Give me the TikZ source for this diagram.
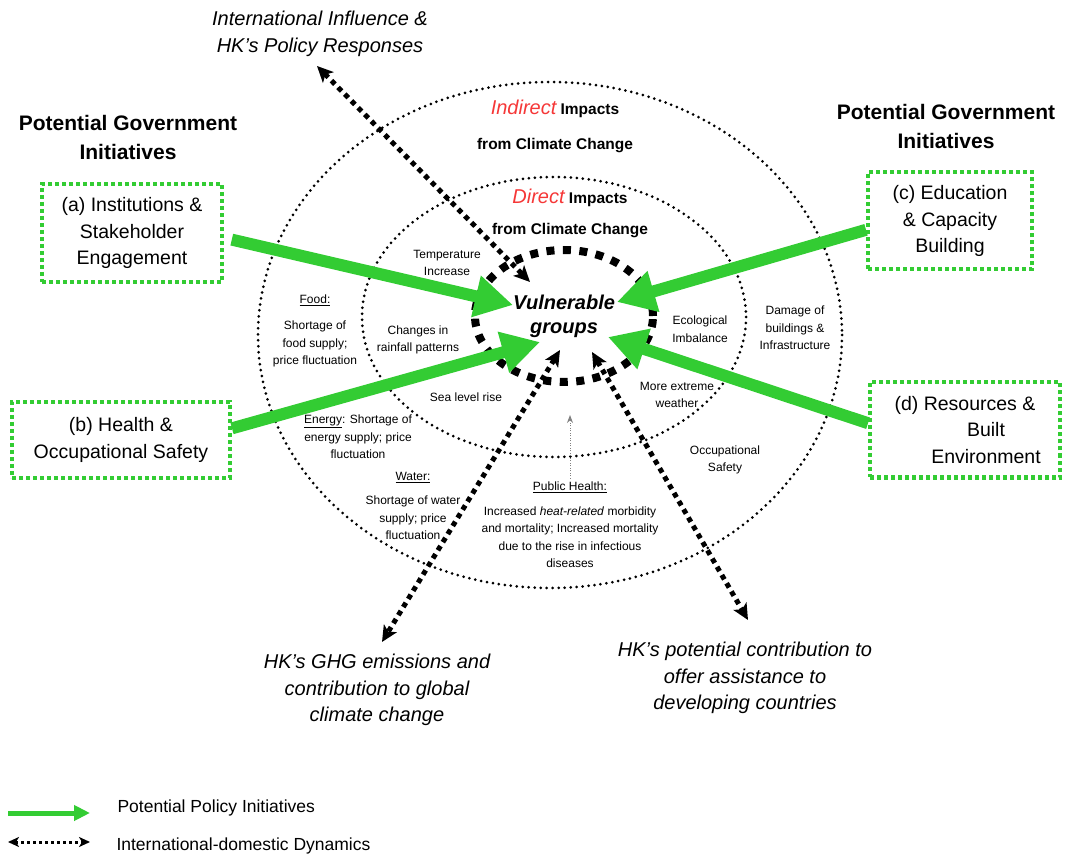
\documentclass[tikz,border=0pt]{standalone}
\usepackage{fontspec}
\setmainfont{Liberation Sans}
\usetikzlibrary{arrows.meta, shapes.geometric}

\definecolor{initgreen}{RGB}{51,204,51}
\definecolor{impactred}{RGB}{245,55,55}

\begin{document}
\begin{tikzpicture}[x=1pt, y=-1pt,
    ring/.style={line width=3pt, line cap=round, dash pattern=on 0pt off 6pt},
    initbox/.style={draw=initgreen, line width=4pt, dash pattern=on 4pt off 3pt,
      align=center, inner sep=0pt, font=\fontsize{19.5}{26.5}\selectfont},
    policy/.style={initgreen, line width=12pt, -{Triangle[length=38pt,width=40pt]}},
    dyn/.style={line width=5pt, dash pattern=on 5pt off 4.5pt,
      {Stealth[length=16pt,width=15pt,inset=4pt]}-{Stealth[length=16pt,width=15pt,inset=4pt]}},
    impact/.style={align=center, font=\fontsize{12}{17.5}\selectfont},
    outlook/.style={align=center, font=\itshape\fontsize{20}{26.5}\selectfont},
    heading/.style={align=center, font=\bfseries\fontsize{21}{29}\selectfont},
    legendtxt/.style={anchor=west, font=\fontsize{17.5}{20}\selectfont}]
  \useasboundingbox (0,0) rectangle (1066,858);

  % impact rings
  \draw[ring] (550,335) ellipse [x radius=292, y radius=253];
  \draw[ring] (554,317) ellipse [x radius=192, y radius=140];

  \node[heading] (headL) at (128,137) {Potential Government\\Initiatives};
  \node[heading] (headR) at (946,126) {Potential Government\\Initiatives};

  \node[align=center, font=\bfseries\fontsize{15.5}{35}\selectfont] (indirect) at (555,126)
    {{\color{impactred}\mdseries\itshape\fontsize{20}{35}\selectfont Indirect} Impacts\\from Climate Change};
  \node[align=center, font=\bfseries\fontsize{15.5}{31}\selectfont] (direct) at (570,213)
    {{\color{impactred}\mdseries\itshape\fontsize{20}{31}\selectfont Direct} Impacts\\from Climate Change};

  % direct impacts
  \node[impact] (temp) at (447,263) {Temperature\\Increase};
  \node[impact] (rain) at (418,340) {Changes in\\rainfall patterns};
  \node[impact] (sea) at (466,397) {Sea level rise};
  \node[impact] (eco) at (700,329) {Ecological\\Imbalance};
  \node[impact] (extreme) at (677,395) {More extreme\\weather};
  % indirect impacts
  \node[impact] (food) at (315,331) {\underline{Food:}\\[9pt]Shortage of\\food supply;\\price fluctuation};
  \node[impact] (energy) at (358,437) {\underline{Energy}: Shortage of\\energy supply; price\\fluctuation};
  \node[impact] (water) at (413,506) {\underline{Water:}\\[7pt]Shortage of water\\supply; price\\fluctuation};
  \node[impact] (health) at (570,525) {\underline{Public Health:}\\[7pt]Increased \textit{heat-related} morbidity\\and mortality; Increased mortality\\due to the rise in infectious\\diseases};
  \node[impact] (damage) at (795,328) {Damage of\\buildings \&\\Infrastructure};
  \node[impact] (occ) at (725,460) {Occupational\\Safety};

  \coordinate (healthTip) at (570,415);
  \draw[gray, line width=1pt, dash pattern=on 1pt off 1.5pt, -{Stealth[length=8pt,width=6pt]}] (health.north) -- (healthTip);

  \node[ellipse, draw, line width=8pt, dash pattern=on 8pt off 8.5pt, minimum width=178pt,
    minimum height=132pt, inner sep=0pt, align=center,
    font=\bfseries\itshape\fontsize{20}{24}\selectfont] (vg) at (564,316) {Vulnerable\\groups};

  % international-domestic dynamics
  \node[outlook] (intl) at (320,34) {International Influence \&\\HK's Policy Responses};
  \node[outlook] (ghg) at (377,690) {HK's GHG emissions and\\contribution to global\\climate change};
  \node[outlook] (assist) at (745,678) {HK's potential contribution to\\offer assistance to\\developing countries};

  \coordinate (dynIntl) at (317,66);
  \coordinate (dynIn1) at (530,282);
  \coordinate (dynGhg) at (382,642);
  \coordinate (dynIn2) at (560,350);
  \coordinate (dynAssist) at (748,620);
  \coordinate (dynIn3) at (592,352);
  \draw[dyn] (dynIntl) -- (dynIn1);
  \draw[dyn] (dynIn2) -- (dynGhg);
  \draw[dyn] (dynIn3) -- (dynAssist);

  % government initiatives
  \node[initbox, minimum width=180pt, minimum height=98pt] (boxA) at (132,233) {(a) Institutions \&\\Stakeholder\\Engagement};
  \node[initbox, minimum width=218pt, minimum height=76pt] (boxB) at (121,440) {(b) Health \&\\Occupational Safety};
  \node[initbox, minimum width=164pt, minimum height=97pt] (boxC) at (950,221) {(c) Education\\\& Capacity\\Building};
  \node[initbox, minimum width=190pt, minimum height=95pt] (boxD) at (965,430) {(d) Resources \&\\\hspace*{42pt}Built\\\hspace*{42pt}Environment};

  \coordinate (tipA) at (513,305);
  \coordinate (tipB) at (540,342);
  \coordinate (tipC) at (617,302);
  \coordinate (tipD) at (608,337);
  \draw[policy, shorten <=8pt] (boxA.-3) -- (tipA);
  \draw[policy] (boxB.6) -- (tipB);
  \draw[policy] (boxC.186) -- (tipC);
  \draw[policy] (boxD.176) -- (tipD);

  % legend
  \coordinate (legP1) at (8,813);
  \coordinate (legP2) at (90,813);
  \coordinate (legD1) at (8,842);
  \coordinate (legD2) at (90,842);
  \draw[initgreen, line width=5pt, -{Triangle[length=16pt,width=15pt]}] (legP1) -- (legP2);
  \draw[line width=3pt, dash pattern=on 3pt off 3pt,
    {Stealth[length=11pt,width=10pt,inset=3pt]}-{Stealth[length=11pt,width=10pt,inset=3pt]}] (legD1) -- (legD2);
  \node[legendtxt] (legPolicy) at (114,808) {Potential Policy Initiatives};
  \node[legendtxt] (legDyn) at (113,846) {International-domestic Dynamics};
\end{tikzpicture}
\end{document}
